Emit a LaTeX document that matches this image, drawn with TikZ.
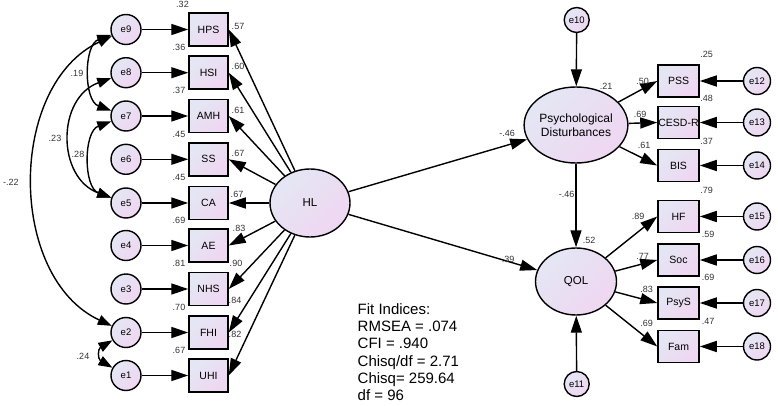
\documentclass[tikz,border=0pt]{standalone}
\usepackage{fontspec}
\setmainfont{Liberation Sans}
\usetikzlibrary{arrows.meta,shapes.geometric}
\definecolor{fillA}{RGB}{228,231,243}
\definecolor{fillB}{RGB}{239,214,242}
\tikzset{
  grad/.style={top color=fillA, bottom color=fillB, shading angle=45},
  obs/.style={draw, line width=1.5pt, rectangle, minimum width=39pt, minimum height=33pt, inner sep=0pt, grad, font=\fontsize{10.5}{12}\selectfont},
  obsR/.style={obs, minimum width=41pt, minimum height=32pt},
  err/.style={draw, line width=1.4pt, circle, minimum size=30pt, inner sep=0pt, grad, font=\fontsize{9.5}{10}\selectfont},
  errR/.style={err, minimum size=27pt},
  errS/.style={err, minimum size=25pt},
  lat/.style={draw, line width=1.4pt, ellipse, inner sep=0pt, grad, font=\fontsize{11.5}{13.5}\selectfont},
  num/.style={font=\fontsize{9}{9}\selectfont, inner sep=0pt, text=black!80},
  arr/.style={-{Triangle[length=17pt,width=11pt]}, line width=1.4pt},
  cov/.style={{Triangle[length=14pt,width=10pt]}-{Triangle[length=14pt,width=10pt]}, line width=1.4pt},
}
\begin{document}
\begin{tikzpicture}[x=1pt,y=-1pt]
\useasboundingbox (0,0) rectangle (778,406);
% left errors and indicators
\foreach \e/\b/\y in {e9/HPS/29.5, e8/HSI/72.7, e7/AMH/116, e6/SS/159.3, e5/CA/203, e4/AE/245.5, e3/NHS/289, e2/FHI/332.5, e1/UHI/375.5}{
  \node[err] (\e) at (126,\y) {\e};
  \node[obs] (\b) at (208.5,\y) {\b};
  \draw[arr] (\e) -- (\b);
}
\node[lat, minimum width=80pt, minimum height=68pt] (HL) at (310,203) {HL};
\foreach \b in {HPS,HSI,AMH,SS,CA,AE,NHS,FHI,UHI}{
  \draw[arr] (HL) -- (\b.east);
}
% covariances
\draw[cov] (e9) to[out=200,in=160] (e7);
\draw[cov] (e8) to[out=200,in=160,looseness=1.25] (e5);
\draw[cov] (e7) to[out=200,in=160] (e5);
\draw[cov] (e9) to[out=205,in=155,looseness=1.02] (e2);
\draw[cov] (e2) to[out=210,in=150,looseness=1.6] (e1);
\node[num] (c1) at (77,73) {.19};
\node[num] (c2) at (55,138) {.23};
\node[num] (c3) at (78,154) {.28};
\node[num] (c4) at (11,182) {-.22};
\node[num] (c5) at (83,356) {.24};
% R2 left
\foreach \n/\x/\y/\t in {r1/182.5/4/.32, r2/179/47.7/.36, r3/179/90.7/.37, r4/179/134/.45, r5/179/177/.45, r6/179/220.7/.69, r7/179/263.3/.81, r8/179/307/.70, r9/179/350/.67}{
  \node[num] (\n) at (\x,\y) {\t};
}
% loadings left
\foreach \n/\x/\y/\t in {l1/238/26/.57, l2/238/66.7/.60, l3/238/110/.61, l4/238/153/.67, l5/237/194/.67, l6/239/228/.83, l7/236/263.3/.90, l8/235/300/.84, l9/235/334.3/.82}{
  \node[num] (\n) at (\x,\y) {\t};
}
% right side
\node[lat, minimum width=81pt, minimum height=76pt, align=center, font=\fontsize{12}{13.5}\selectfont] (PD) at (576,125) {Psychological\\Disturbances};
\node[lat, minimum width=81pt, minimum height=67pt] (QOL) at (576,281.5) {QOL};
\node[errS] (e10) at (576.7,20) {e10};
\node[errS] (e11) at (576.7,384) {e11};
\draw[arr] (e10) -- (PD);
\draw[arr] (e11) -- (QOL);
\draw[arr] (PD) -- (QOL);
\draw[arr] (HL) -- (PD);
\draw[arr] (HL) -- (QOL);
\foreach \e/\b/\y in {e12/PSS/81, e13/CESD-R/122.5, e14/BIS/165.5}{
  \node[obsR] (\b) at (678.5,\y) {\b};
  \node[errR] (\e) at (757,\y) {\e};
  \draw[arr] (\e) -- (\b);
  \draw[arr] (PD) -- (\b.west);
}
\foreach \e/\b/\y in {e15/HF/216.5, e16/Soc/260, e17/PsyS/303, e18/Fam/346.5}{
  \node[obsR] (\b) at (678.5,\y) {\b};
  \node[errR] (\e) at (757,\y) {\e};
  \draw[arr] (\e) -- (\b);
  \draw[arr] (QOL) -- (\b.west);
}
\foreach \n/\x/\y/\t in {p1/606/86/.21, p2/642.7/81/.50, p3/640/114.3/.69, p4/644/145.7/.61, p5/706.7/54.3/.25, p6/706.7/98.3/.48, p7/706.7/141.7/.37, p8/706.7/190.7/.79, p9/708/234.3/.59, p10/708/277.7/.69, p11/708/321/.47, p12/566.7/194.3/-.46, p13/507/133.3/-.46, p14/508/259.3/.39, p15/589/240/.52, p16/638/216.7/.89, p17/642.7/256/.77, p18/646.7/289.3/.83, p19/646.7/323.3/.69}{
  \node[num] (\n) at (\x,\y) {\t};
}
\node[anchor=north west, inner sep=0pt, align=left, font=\fontsize{15}{17.2}\selectfont] (fit) at (357.5,303.5) {Fit Indices:\\RMSEA = .074\\CFI = .940\\Chisq/df = 2.71\\Chisq= 259.64\\df = 96};
\end{tikzpicture}
\end{document}
